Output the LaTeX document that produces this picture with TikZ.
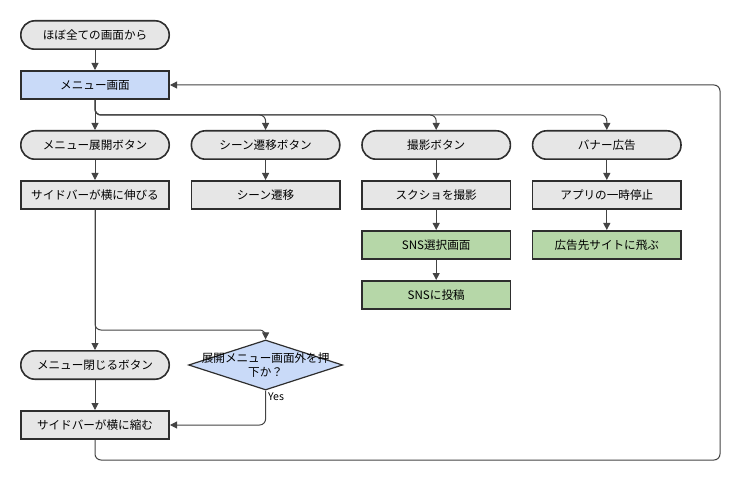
\documentclass[tikz,border=0pt]{standalone}
\usepackage{fontspec}
\setmainfont{Noto Sans CJK JP}
\usepackage{xcolor}
\definecolor{cLine}{HTML}{2E2E2E}
\definecolor{cEdge}{HTML}{444444}
\definecolor{cGrayFill}{HTML}{E6E6E6}
\definecolor{cBlueFill}{HTML}{C9DAF8}
\definecolor{cGreenFill}{HTML}{B6D7A8}
\usepackage{tikz}
\usetikzlibrary{positioning,arrows.meta,shapes.geometric,calc}
\tikzset{
  node-box/.style={draw=cLine,line width=1.6pt,fill=cGrayFill,
    minimum height=28.4pt,minimum width=148.4pt,align=center,
    font=\fontsize{11.6pt}{14pt}\selectfont},
  node-term/.style={node-box,rounded corners=14pt},
  node-menu/.style={node-box,fill=cBlueFill},
  node-done/.style={node-box,fill=cGreenFill},
  node-decide/.style={diamond,draw=cLine,line width=1.2pt,fill=cBlueFill,
    minimum width=154pt,minimum height=50pt,inner sep=0pt},
  arrow/.style={-{Triangle[length=7pt,width=7pt]},line width=1pt,
    draw=cEdge,rounded corners=6pt},
}
\begin{document}
\begin{tikzpicture}[x=1pt,y=1pt,node distance=20pt and 20.6pt]
  \useasboundingbox (0,0) rectangle (745,-484);
  \node[node-term] (start) at (95,-35) {ほぼ全ての画面から};
  \node[node-menu,below=of start] (menu) {メニュー画面};
  \node[node-term,below=30pt of menu] (btnMenu) {メニュー展開ボタン};
  \node[node-term,right=of btnMenu] (btnScene) {シーン遷移ボタン};
  \node[node-term,right=of btnScene] (btnShot) {撮影ボタン};
  \node[node-term,right=of btnShot] (btnBanner) {バナー広告};
  \node[node-box,below=of btnMenu] (sideOpen) {サイドバーが横に伸びる};
  \node[node-box,below=of btnScene] (scene) {シーン遷移};
  \node[node-box,below=of btnShot] (shot) {スクショを撮影};
  \node[node-box,below=of btnBanner] (pause) {アプリの一時停止};
  \node[node-done,below=of shot] (snsSelect) {SNS選択画面};
  \node[node-done,below=of snsSelect] (snsPost) {SNSに投稿};
  \node[node-done,below=of pause] (adJump) {広告先サイトに飛ぶ};
  \node[node-term,below=140pt of sideOpen] (btnClose) {メニュー閉じるボタン};
  \node[node-box,below=30pt of btnClose] (sideClose) {サイドバーが横に縮む};
  \node[node-decide,label={[align=center,font=\fontsize{11.6pt}{14pt}\selectfont]center:展開メニュー画面外を押\\下か？}]
    (decide) at (btnScene |- btnClose) {};
  \coordinate (loopCorner) at (720,-460);

  \draw[arrow] (start) -- (menu);
  \draw[arrow] (menu) -- (btnMenu);
  \draw[arrow] (menu.south) -- ++(0,-15) -| (btnScene.north);
  \draw[arrow] (menu.south) -- ++(0,-15) -| (btnShot.north);
  \draw[arrow] (menu.south) -- ++(0,-15) -| (btnBanner.north);
  \draw[arrow] (btnMenu) -- (sideOpen);
  \draw[arrow] (btnScene) -- (scene);
  \draw[arrow] (btnShot) -- (shot);
  \draw[arrow] (btnBanner) -- (pause);
  \draw[arrow] (shot) -- (snsSelect);
  \draw[arrow] (snsSelect) -- (snsPost);
  \draw[arrow] (pause) -- (adJump);
  \draw[arrow] (sideOpen) -- (btnClose);
  \draw[arrow] (sideOpen.south) -- ++(0,-120) -| (decide.north);
  \draw[arrow] (btnClose) -- (sideClose);
  \draw[arrow] (decide.south) |- (sideClose.east)
    node[pos=0,anchor=north west,inner sep=2pt,font=\fontsize{10.5pt}{12pt}\selectfont] {Yes};
  \draw[arrow] (sideClose.south) |- (loopCorner) |- (menu.east);
\end{tikzpicture}
\end{document}
